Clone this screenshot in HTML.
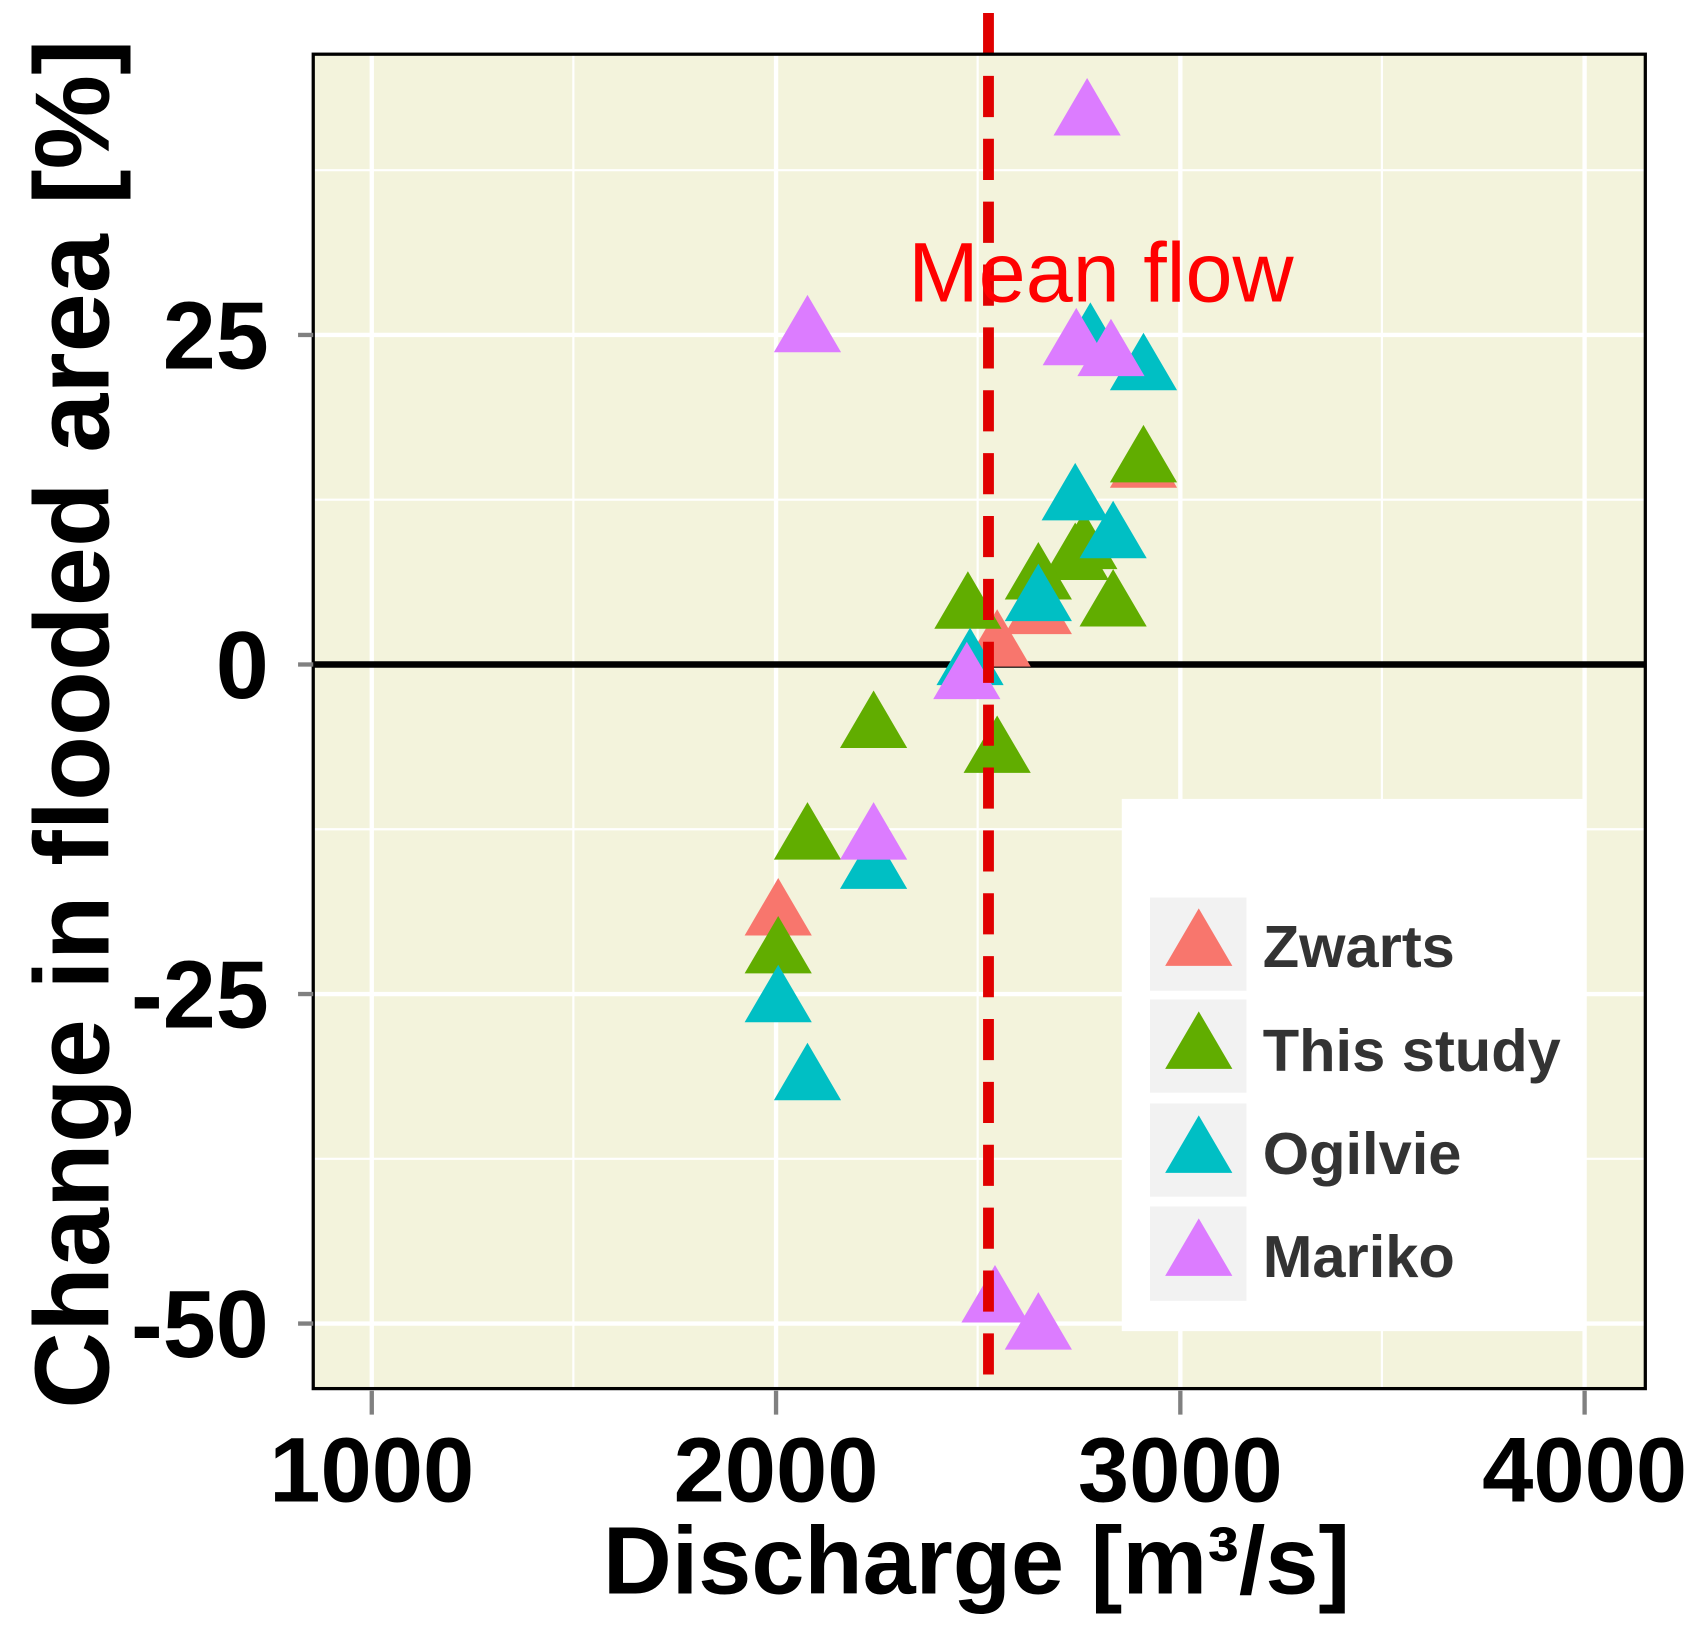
<!DOCTYPE html>
<html><head><style>html,body{margin:0;padding:0;background:#fff}svg{display:block}</style></head>
<body>
<svg width="1693" height="1626" viewBox="0 0 1562 1500" preserveAspectRatio="none" xmlns="http://www.w3.org/2000/svg" font-family="Liberation Sans, Arial, sans-serif">
<defs>
<path id="t" d="M0,-28 L31,25 L-31,25 Z"/>
</defs>
<rect x="289" y="50" width="1229" height="1231" fill="#F3F3DC"/>
<g stroke="#fff" stroke-width="2">
<line x1="529" y1="50" x2="529" y2="1281"/><line x1="902" y1="50" x2="902" y2="1281"/><line x1="1275" y1="50" x2="1275" y2="1281"/>
<line x1="289" y1="157" x2="1518" y2="157"/><line x1="289" y1="461" x2="1518" y2="461"/><line x1="289" y1="765" x2="1518" y2="765"/><line x1="289" y1="1069" x2="1518" y2="1069"/>
</g>
<g stroke="#fff" stroke-width="4">
<line x1="343" y1="50" x2="343" y2="1281"/><line x1="716" y1="50" x2="716" y2="1281"/><line x1="1089" y1="50" x2="1089" y2="1281"/><line x1="1462" y1="50" x2="1462" y2="1281"/>
<line x1="289" y1="309" x2="1518" y2="309"/><line x1="289" y1="917" x2="1518" y2="917"/><line x1="289" y1="1221" x2="1518" y2="1221"/>
</g>
<line x1="289" y1="613" x2="1518" y2="613" stroke="#000" stroke-width="6"/>
<g fill="#F8766D">
<use href="#t" x="1055" y="425"/><use href="#t" x="958" y="560"/><use href="#t" x="920" y="590"/><use href="#t" x="718" y="838"/>
</g>
<g fill="#61AD00">
<use href="#t" x="1055" y="420"/><use href="#t" x="1000" y="500"/><use href="#t" x="992" y="510"/><use href="#t" x="958" y="528"/><use href="#t" x="1027" y="553"/><use href="#t" x="893" y="555"/><use href="#t" x="806" y="665"/><use href="#t" x="920" y="688"/><use href="#t" x="745" y="768"/><use href="#t" x="718" y="873"/>
</g>
<g fill="#00BFC4">
<use href="#t" x="1006" y="307"/><use href="#t" x="1055" y="335"/><use href="#t" x="992" y="455"/><use href="#t" x="1027" y="490"/><use href="#t" x="958" y="548"/><use href="#t" x="895" y="607"/><use href="#t" x="806" y="795"/><use href="#t" x="718" y="918"/><use href="#t" x="745" y="990"/>
</g>
<g fill="#DC7CFF">
<use href="#t" x="1003" y="100"/><use href="#t" x="745" y="300"/><use href="#t" x="993" y="312"/><use href="#t" x="1025" y="322"/><use href="#t" x="806" y="768"/><use href="#t" x="892" y="620"/><use href="#t" x="918" y="1195"/><use href="#t" x="958" y="1220"/>
</g>
<line x1="912" y1="12" x2="912" y2="1281" stroke="#E00000" stroke-width="10" stroke-dasharray="38,20"/>
<text x="838" y="278" font-size="78" fill="#FF0000">Mean flow</text>
<rect x="1035" y="737" width="427" height="491" fill="#fff"/>
<g fill="#F2F2F2">
<rect x="1061" y="828" width="89" height="86"/><rect x="1061" y="922" width="89" height="86"/><rect x="1061" y="1018" width="89" height="86"/><rect x="1061" y="1113" width="89" height="87"/>
</g>
<use href="#t" x="1106" y="866" fill="#F8766D"/><use href="#t" x="1106" y="961" fill="#61AD00"/><use href="#t" x="1106" y="1057" fill="#00BFC4"/><use href="#t" x="1106" y="1152" fill="#DC7CFF"/>
<g font-size="55" font-weight="bold" fill="#333">
<text x="1165" y="892">Zwarts</text><text x="1165" y="988">This study</text><text x="1165" y="1083">Ogilvie</text><text x="1165" y="1178">Mariko</text>
</g>
<rect x="289" y="50" width="1229" height="1231" fill="none" stroke="#000" stroke-width="3"/>
<g stroke="#808080" stroke-width="4">
<line x1="275" y1="309" x2="289" y2="309"/><line x1="275" y1="613" x2="289" y2="613"/><line x1="275" y1="917" x2="289" y2="917"/><line x1="275" y1="1221" x2="289" y2="1221"/>
<line x1="343" y1="1283" x2="343" y2="1305"/><line x1="716" y1="1283" x2="716" y2="1305"/><line x1="1089" y1="1283" x2="1089" y2="1305"/><line x1="1462" y1="1283" x2="1462" y2="1305"/>
</g>
<g font-size="88" font-weight="bold" fill="#000" text-anchor="end">
<text x="248" y="340">25</text><text x="248" y="644">0</text><text x="248" y="948">-25</text><text x="248" y="1252">-50</text>
</g>
<g font-size="85" font-weight="bold" fill="#000" text-anchor="middle">
<text x="343" y="1385">1000</text><text x="716" y="1385">2000</text><text x="1089" y="1385">3000</text><text x="1462" y="1385">4000</text>
</g>
<text x="901" y="1470" font-size="88" font-weight="bold" text-anchor="middle">Discharge [m³/s]</text>
<text transform="translate(100,668) rotate(-90)" font-size="98" font-weight="bold" text-anchor="middle">Change in flooded area [%]</text>
</svg>
</body></html>
